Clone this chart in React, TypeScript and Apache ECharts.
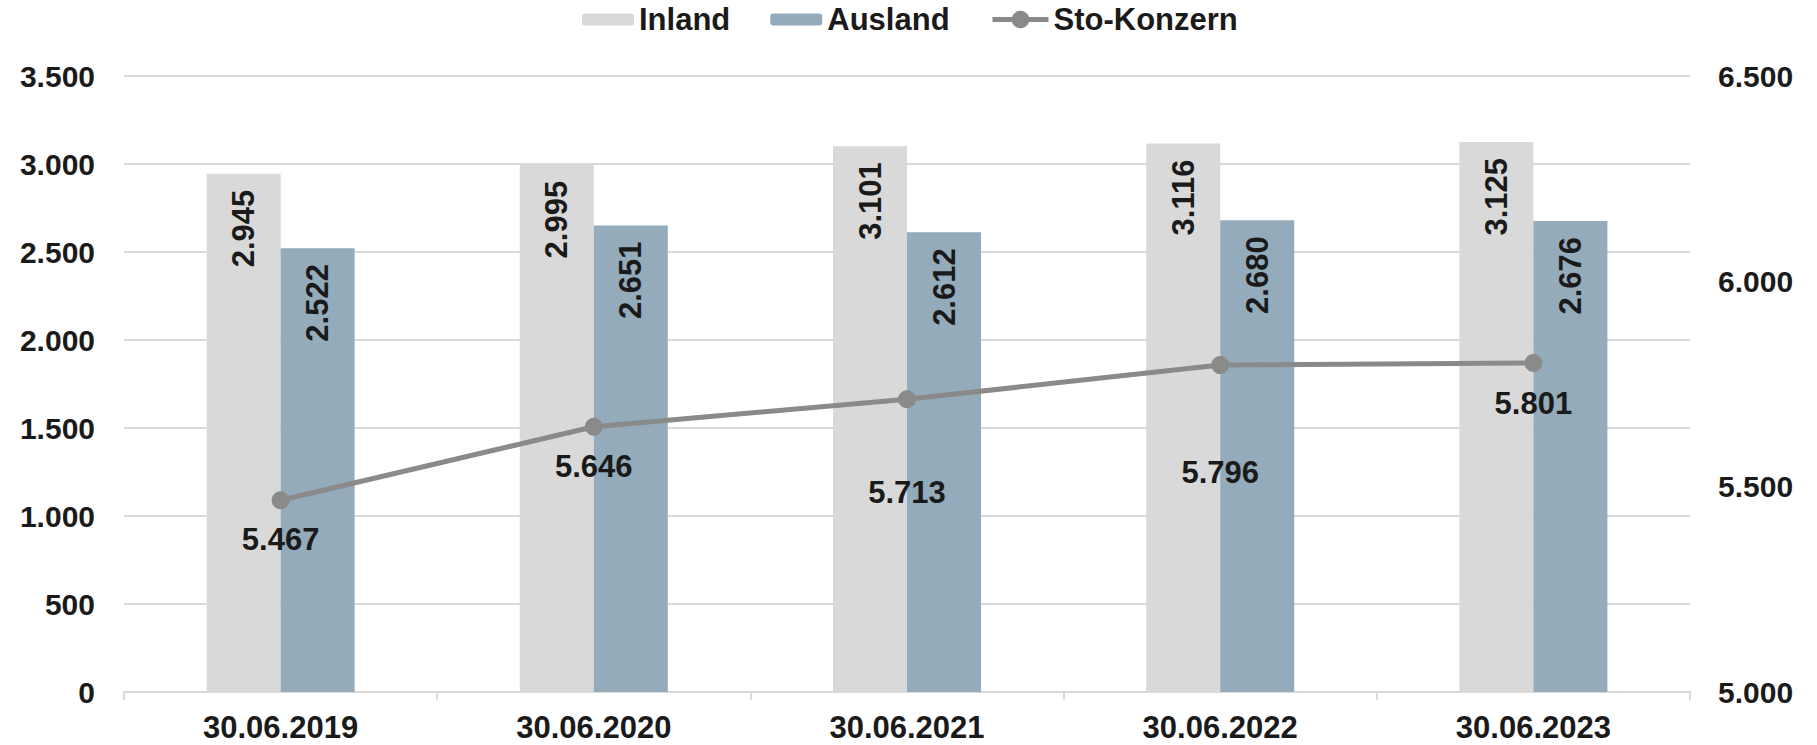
import React, { useEffect, useRef } from "react";
import * as echarts from "echarts";

const categories = ["30.06.2019", "30.06.2020", "30.06.2021", "30.06.2022", "30.06.2023"];
const inland = [2945, 2995, 3101, 3116, 3125];
const ausland = [2522, 2651, 2612, 2680, 2676];
const konzern = [5467, 5646, 5713, 5796, 5801];

// vertical offsets (px) of the group line's labels below each point
const konzernLabelOffsets = [39, 40, 93, 107, 40];

const FONT = "'Liberation Sans', Arial, sans-serif";
const TEXT = "#1a1a1a";

const fmt = (v: number) => String(v).replace(/\B(?=(\d{3})+(?!\d))/g, ".");

export default function App() {
  const ref = useRef<HTMLDivElement>(null);
  useEffect(() => {
    if (!ref.current) return;
    const chart = echarts.init(ref.current, null, { renderer: "svg" });
    const barLabel = {
      show: true,
      position: "insideTop",
      distance: 16,
      rotate: 90,
      align: "right",
      verticalAlign: "middle",
      fontFamily: FONT,
      fontWeight: "bold",
      fontSize: 31,
      color: TEXT,
      formatter: (p: any) => fmt(p.value),
    };
    const legendText = { fontFamily: FONT, fontWeight: "bold", fontSize: 31, color: TEXT };
    chart.setOption({
      animation: false,
      textStyle: { fontFamily: FONT },
      legend: [
        {
          top: -1,
          left: 577,
          itemWidth: 52,
          itemHeight: 12,
          itemGap: 40,
          textStyle: legendText,
          data: ["Inland", "Ausland"],
        },
        {
          top: -1,
          left: 985,
          itemWidth: 56,
          itemHeight: 22,
          itemGap: 40,
          textStyle: legendText,
          lineStyle: { width: 5 },
          data: ["Sto-Konzern"],
        },
      ],
      grid: { left: 124, right: 127, top: 76, bottom: 53, containLabel: false },
      xAxis: {
        type: "category",
        data: categories,
        axisLine: { show: true, lineStyle: { color: "#d9d9d9", width: 2 } },
        axisTick: { show: true, length: 8, interval: 0, lineStyle: { color: "#d9d9d9", width: 2 } },
        axisLabel: {
          margin: 20,
          fontFamily: FONT,
          fontWeight: "bold",
          fontSize: 31,
          color: TEXT,
          interval: 0,
        },
      },
      yAxis: [
        {
          type: "value",
          min: 0,
          max: 3500,
          interval: 500,
          axisLine: { show: false },
          axisTick: { show: false },
          splitLine: { show: true, lineStyle: { color: "#d9d9d9", width: 2 } },
          axisLabel: {
            margin: 29,
            fontFamily: FONT,
            fontWeight: "bold",
            fontSize: 30,
            color: TEXT,
            formatter: (v: number) => fmt(v),
          },
        },
        {
          type: "value",
          min: 5000,
          max: 6500,
          interval: 500,
          position: "right",
          axisLine: { show: false },
          axisTick: { show: false },
          splitLine: { show: false },
          axisLabel: {
            margin: 28,
            fontFamily: FONT,
            fontWeight: "bold",
            fontSize: 30,
            color: TEXT,
            formatter: (v: number) => fmt(v),
          },
        },
      ],
      series: [
        {
          name: "Inland",
          type: "bar",
          data: inland,
          barWidth: 74,
          barGap: "0%",
          itemStyle: { color: "#d9d9d9" },
          label: barLabel,
        },
        {
          name: "Ausland",
          type: "bar",
          data: ausland,
          barWidth: 74,
          barGap: "0%",
          itemStyle: { color: "#94abbb" },
          label: barLabel,
        },
        {
          name: "Sto-Konzern",
          type: "line",
          yAxisIndex: 1,
          z: 5,
          symbol: "circle",
          symbolSize: 18,
          itemStyle: { color: "#8a8a8a" },
          lineStyle: { color: "#8a8a8a", width: 5 },
          data: konzern.map((v, i) => ({
            value: v,
            label: {
              show: true,
              position: "inside",
              offset: [0, konzernLabelOffsets[i]],
              align: "center",
              verticalAlign: "middle",
              fontFamily: FONT,
              fontWeight: "bold",
              fontSize: 31,
              color: TEXT,
              formatter: () => fmt(v),
            },
          })),
        },
      ],
    });
    return () => chart.dispose();
  }, []);
  return (
    <div
      ref={ref}
      style={{ position: "absolute", left: 0, top: 0, width: 1817, height: 745, background: "#fff" }}
    />
  );
}
